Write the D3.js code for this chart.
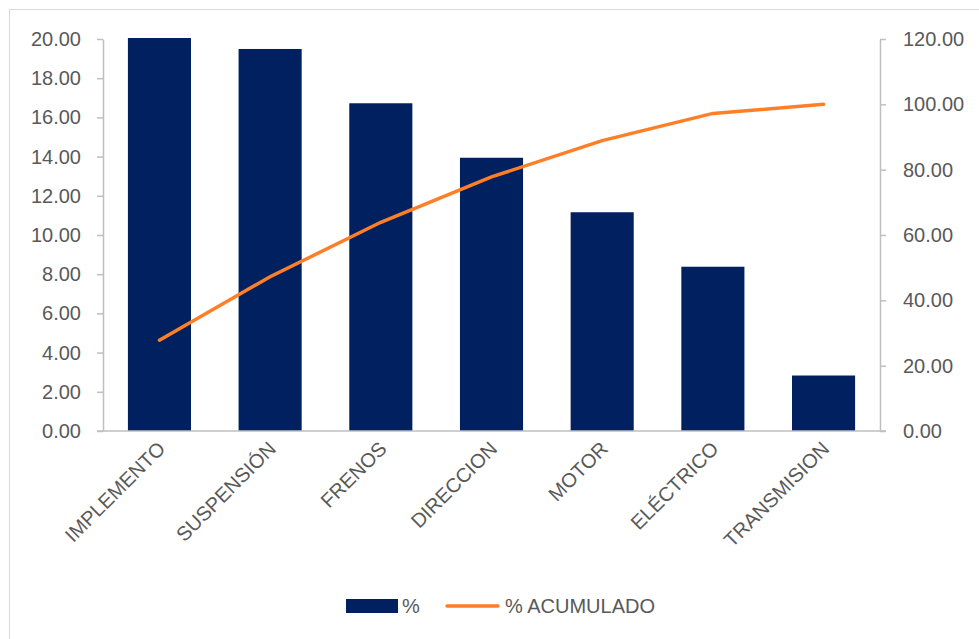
<!DOCTYPE html>
<html>
<head>
<meta charset="utf-8">
<script src="https://cdn.jsdelivr.net/npm/d3@7"></script>
<style>
  html, body { margin: 0; padding: 0; background: #fff; }
  svg { display: block; }
  text { font-family: "Liberation Sans", Arial, sans-serif; fill: #595959; }
</style>
</head>
<body>
<svg id="chart" width="979" height="639"></svg>
<script>
const categories = ["IMPLEMENTO", "SUSPENSIÓN", "FRENOS", "DIRECCION", "MOTOR", "ELÉCTRICO", "TRANSMISION"];
const percent = [27.78, 19.44, 16.67, 13.89, 11.11, 8.33, 2.78];
const cumulative = [27.78, 47.22, 63.89, 77.78, 88.89, 97.22, 100.00];
const leftTicks = [0, 2, 4, 6, 8, 10, 12, 14, 16, 18, 20];
const rightTicks = [0, 20, 40, 60, 80, 100, 120];
const legendLabels = ["%", "% ACUMULADO"];

(function () {
const svg = d3.select("#chart");
const W = 979, H = 639;
const pL = 103, pR = 880, pT = 39, pB = 431;
const barColor = "#002060", lineColor = "#FF7F27", axisColor = "#BFBFBF";
const FS = "20px";

// outer frame
svg.append("rect").attr("x", 9.5).attr("y", 9.5).attr("width", W + 20).attr("height", H + 20)
  .attr("fill", "none").attr("stroke", "#D9D9D9").attr("stroke-width", 1);

const x = d3.scaleBand().domain(categories).range([pL, pR]).paddingInner(0.43).paddingOuter(0.225);
const yL = d3.scaleLinear().domain([0, 20]).range([pB, pT]);
const yR = d3.scaleLinear().domain([0, 120]).range([pB, pT]);

svg.append("defs").append("clipPath").attr("id", "plotclip")
  .append("rect").attr("x", pL).attr("y", pT - 1).attr("width", pR - pL).attr("height", pB - pT + 1);

// bars
svg.append("g").attr("clip-path", "url(#plotclip)")
  .selectAll("rect").data(categories).join("rect")
  .attr("x", d => x(d))
  .attr("width", x.bandwidth())
  .attr("y", (d, i) => yL(percent[i]) - 1)
  .attr("height", (d, i) => pB - yL(percent[i]) + 1)
  .attr("fill", barColor);

// left axis
const gL = svg.append("g").attr("transform", `translate(${pL},0)`)
  .call(d3.axisLeft(yL).tickValues(leftTicks).tickFormat(d3.format(".2f")).tickSize(6).tickSizeOuter(0).tickPadding(16));
// right axis
const gR = svg.append("g").attr("transform", `translate(${pR},0)`)
  .call(d3.axisRight(yR).tickValues(rightTicks).tickFormat(d3.format(".2f")).tickSize(6).tickSizeOuter(0).tickPadding(17));
[gL, gR].forEach(g => {
  g.select(".domain").attr("stroke", axisColor).attr("stroke-width", 1.5);
  g.selectAll(".tick line").attr("stroke", axisColor).attr("stroke-width", 1.5);
  g.selectAll(".tick text").style("font-family", '"Liberation Sans", Arial, sans-serif').style("font-size", FS).attr("fill", "#595959");
});

// bottom axis
const gB = svg.append("g").attr("transform", `translate(0,${pB})`)
  .call(d3.axisBottom(x).tickSize(0).tickPadding(0));
gB.select(".domain").attr("stroke", axisColor).attr("stroke-width", 1.5).attr("d", `M${pL - 6},0H${pR + 6}`);
gB.selectAll(".tick text")
  .attr("text-anchor", "end")
  .attr("dy", null)
  .attr("y", 0)
  .attr("transform", "translate(7,19) rotate(-45)")
  .style("font-family", '"Liberation Sans", Arial, sans-serif')
  .style("font-size", FS).attr("fill", "#595959");

// cumulative line
const line = d3.line().x((d, i) => x(categories[i]) + x.bandwidth() / 2).y(d => yR(d));
svg.append("path").datum(cumulative).attr("d", line)
  .attr("fill", "none").attr("stroke", lineColor).attr("stroke-width", 3.5).attr("stroke-linecap", "round");

// legend
const lg = svg.append("g");
lg.append("rect").attr("x", 346).attr("y", 599).attr("width", 52).attr("height", 14).attr("fill", barColor);
lg.append("text").attr("x", 402).attr("y", 613).text(legendLabels[0]).style("font-size", FS);
lg.append("line").attr("x1", 447).attr("x2", 498).attr("y1", 606).attr("y2", 606)
  .attr("stroke", lineColor).attr("stroke-width", 3.5).attr("stroke-linecap", "round");
lg.append("text").attr("x", 505).attr("y", 613).text(legendLabels[1]).style("font-size", FS);
})();
</script>
</body>
</html>
